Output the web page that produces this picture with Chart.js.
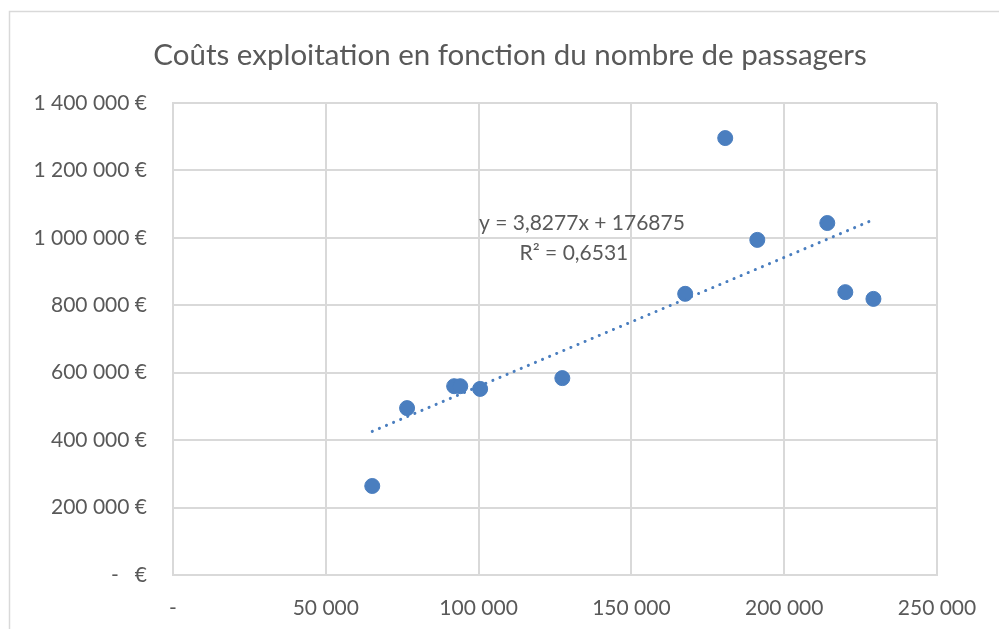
<!DOCTYPE html>
<html>
<head>
<meta charset="utf-8">
<script src="https://cdn.jsdelivr.net/npm/chart.js@4"></script>
<style>
  html, body { margin: 0; padding: 0; background: #fff; }
  #wrap { width: 999px; height: 629px; }
</style>
</head>
<body>
<div id="wrap"><canvas id="coutsChart" width="999" height="629"></canvas></div>
<script>
// passagers (x) et coûts d'exploitation (y)
var passagers = [65200, 76600, 92000, 94000, 100500, 127400, 167600, 180700, 191200, 214100, 220000, 229200];
var couts = [264000, 495000, 560000, 560000, 552000, 584000, 834000, 1296000, 994000, 1044000, 839000, 819000];

// courbe de tendance (extrémités)
var trendX = [65200, 229200];
var trendY = [426000, 1054000];

var xTickLabels = ['-', '50 000', '100 000', '150 000', '200 000', '250 000'];
var yTickLabels = ['-   €', '200 000 €', '400 000 €', '600 000 €', '800 000 €', '1 000 000 €', '1 200 000 €', '1 400 000 €'];

var titre = 'Coûts exploitation en fonction du nombre de passagers';
var equationText = ['y = 3,8277x + 176875', 'R² = 0,6531'];
var equationAt = { x: 132500, y: 1000000 };

var fontFamily = 'Lato, "Open Sans", sans-serif';
var textColor = '#595959';
var gridColor = '#d9d9d9';
var blue = '#4a7ebf';

function toPoints(xs, ys){
    return xs.map((x, i) => ({ x: x, y: ys[i] }));
}

// cadre du graphique + titre
var cadre = {
    id: 'cadre',
    beforeDraw(chart){
        var ctx = chart.ctx;
        ctx.save();
        ctx.fillStyle = '#fff';
        ctx.fillRect(0, 0, chart.width, chart.height);
        ctx.strokeStyle = gridColor;
        ctx.lineWidth = 1.5;
        ctx.strokeRect(9.5, 11.5, chart.width + 20, chart.height + 20);
        ctx.fillStyle = textColor;
        ctx.font = '29.5px ' + fontFamily;
        ctx.textAlign = 'center';
        ctx.textBaseline = 'middle';
        ctx.fillText(titre, 510, 55);
        ctx.restore();
    }
};

var equation = {
    id: 'equation',
    afterDatasetsDraw(chart){
        var ctx = chart.ctx;
        var px = chart.scales.x.getPixelForValue(equationAt.x);
        var py = chart.scales.y.getPixelForValue(equationAt.y);
        ctx.save();
        ctx.fillStyle = textColor;
        ctx.font = '21px ' + fontFamily;
        ctx.textAlign = 'center';
        ctx.textBaseline = 'middle';
        ctx.fillText(equationText[0], px + 4, py - 15);
        ctx.fillText(equationText[1], px - 4, py + 15);
        ctx.restore();
    }
};

var chart = new Chart(document.getElementById('coutsChart'), {
    type: 'scatter',
    data: {
        datasets: [{
            label: 'Tendance',
            data: toPoints(trendX, trendY),
            showLine: true,
            borderColor: blue,
            borderWidth: 3,
            borderDash: [0.1, 7.6],
            borderCapStyle: 'round',
            pointRadius: 0,
            pointHoverRadius: 0
        }, {
            label: 'Coûts',
            data: toPoints(passagers, couts),
            backgroundColor: blue,
            borderColor: blue,
            pointRadius: 7.5,
            pointHoverRadius: 7.5
        }]
    },
    options: {
        responsive: false,
        animation: false,
        layout: { padding: { left: 0, right: 62, top: 103, bottom: 0 } },
        plugins: {
            legend: { display: false },
            tooltip: { enabled: false },
            title: { display: false }
        },
        scales: {
            x: {
                type: 'linear',
                min: 0,
                max: 250000,
                ticks: {
                    stepSize: 50000,
                    color: textColor,
                    font: { family: fontFamily, size: 21 },
                    padding: 21,
                    maxRotation: 0,
                    callback: (v, i) => xTickLabels[i]
                },
                grid: { color: gridColor, lineWidth: 2, drawTicks: false },
                border: { color: gridColor, width: 2 },
                afterFit: s => { s.height = 54; }
            },
            y: {
                min: 0,
                max: 1400000,
                ticks: {
                    stepSize: 200000,
                    color: textColor,
                    font: { family: fontFamily, size: 21 },
                    padding: 26,
                    callback: (v, i) => yTickLabels[i]
                },
                grid: { color: gridColor, lineWidth: 2, drawTicks: false },
                border: { color: gridColor, width: 2 },
                afterFit: s => { s.width = 173; }
            }
        }
    },
    plugins: [cadre, equation]
});
</script>
</body>
</html>
